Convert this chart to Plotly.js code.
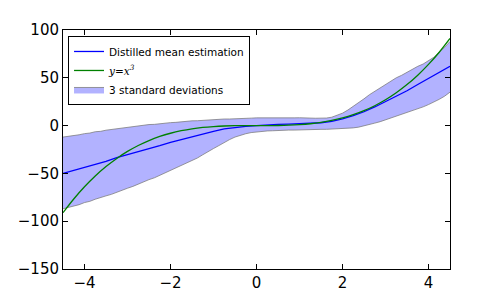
<!DOCTYPE html>
<html>
<head>
<meta charset="utf-8">
<script src="https://cdn.plot.ly/plotly-3.0.1.min.js"></script>
<style>html,body{margin:0;padding:0;background:#fff;}#chart{width:500px;height:300px;}</style>
</head>
<body>
<div id="chart"></div>
<script>
const xs = [-4.5,-4.25,-4,-3.75,-3.5,-3.25,-3,-2.75,-2.5,-2.25,-2,-1.75,-1.5,-1.25,-1,-0.75,-0.5,-0.25,0,0.25,0.5,0.75,1,1.25,1.5,1.75,2,2.25,2.5,2.75,3,3.25,3.5,3.75,4,4.25,4.5];
const meanVals = [-50,-47,-43.5,-40.5,-37.5,-33.5,-30.5,-27,-24,-21,-17.5,-14.5,-11.5,-8.5,-6,-3.5,-2,-0.8,0,0.8,1.2,1.5,1.8,2.2,3,4.5,7,10.5,14.5,19.5,25,30.5,36.5,43,49.5,56,62];
const cubeVals = [-91.125,-76.766,-64,-52.734,-42.875,-34.328,-27,-20.797,-15.625,-11.391,-8,-5.359,-3.375,-1.953,-1,-0.422,-0.125,-0.016,0,0.016,0.125,0.422,1,1.953,3.375,5.359,8,11.391,15.625,20.797,27,34.328,42.875,52.734,64,76.766,91.125];
const bandX = [-4.5,-4.375,-4.25,-4.125,-4,-3.875,-3.75,-3.625,-3.5,-3.375,-3.25,-3.125,-3,-2.875,-2.75,-2.625,-2.5,-2.375,-2.25,-2.125,-2,-1.875,-1.75,-1.625,-1.5,-1.375,-1.25,-1.125,-1,-0.875,-0.75,-0.625,-0.5,-0.375,-0.25,-0.125,0,0.125,0.25,0.375,0.5,0.625,0.75,0.875,1,1.125,1.25,1.375,1.5,1.625,1.75,1.875,2,2.125,2.25,2.375,2.5,2.625,2.75,2.875,3,3.125,3.25,3.375,3.5,3.625,3.75,3.875,4,4.125,4.25,4.375,4.5];
const upperVals = [-12,-11.3,-10.2,-9.6,-8.4,-7.8,-6.4,-6.0,-4.8,-4.1,-3.1,-2.0,-1.6,-0.6,-0.1,0.7,1.1,1.3,2.1,2.4,3.1,3.4,4.1,4.3,5.0,5.1,5.6,5.8,6.3,6.4,6.9,6.9,7.3,7.4,7.7,7.8,8.1,8.0,8.3,8.2,8.4,8.2,8.3,8.1,8.2,7.9,8.0,7.7,7.8,7.9,8.8,10.5,13,16.3,20,24.2,28,32.3,36,39.2,43,46.8,50,52.6,56,59.3,62,64.4,67.5,71.5,77,81.8,88];
const lowerVals = [-87,-85.8,-84,-82.7,-80.5,-79.2,-77,-75.6,-73.5,-71.9,-69.5,-67.8,-65.5,-63.6,-61,-59.1,-56.5,-54.6,-52,-49.8,-47,-44.8,-42,-39.6,-36.5,-33.9,-30.5,-27.6,-24,-20.9,-17.5,-14.6,-12,-10.1,-8.5,-7.3,-6.5,-6.1,-5.6,-5.4,-5.0,-5.0,-4.7,-4.7,-4.4,-4.5,-4.2,-4.2,-3.9,-3.9,-3.7,-3.7,-3.4,-3.1,-2.4,-1.6,-0.4,1.0,2.6,4.1,6,7.6,9.6,11.4,13.5,15.3,17.5,19.6,22,24.4,27.5,30.8,35];
const xTicks = [-4,-2,0,2,4];
const yTicks = [-150,-100,-50,0,50,100];

const edge = 'rgba(120,120,120,0.75)';
const traces = [
  {x: bandX, y: lowerVals, type: 'scatter', mode: 'lines', line: {color: edge, width: 1}, showlegend: false, hoverinfo: 'skip'},
  {x: bandX, y: upperVals, type: 'scatter', mode: 'lines', fill: 'tonexty', fillcolor: 'rgba(0,0,255,0.3)', line: {color: edge, width: 1}, name: '3 standard deviations', legendrank: 3},
  {x: xs, y: meanVals, type: 'scatter', mode: 'lines', line: {color: '#0000ff', width: 1.3}, name: 'Distilled mean estimation', legendrank: 1},
  {x: xs, y: cubeVals, type: 'scatter', mode: 'lines', line: {color: '#008000', width: 1.3, shape: 'spline'}, name: "<span style='font-family:DejaVu Serif;font-style:italic'>y=x<sup>3</sup></span>", legendrank: 2}
];
const axisCommon = {showgrid: false, zeroline: false, showline: true, linecolor: '#000', linewidth: 1, mirror: 'allticks', ticks: 'inside', ticklen: 5, tickcolor: '#000', tickfont: {family: 'DejaVu Sans', size: 15, color: '#000'}};
const layout = {
  width: 500, height: 300,
  margin: {l: 63, r: 50, t: 30, b: 31},
  paper_bgcolor: '#fff', plot_bgcolor: '#fff',
  font: {family: 'DejaVu Sans', color: '#000'},
  xaxis: Object.assign({}, axisCommon, {range: [-4.5, 4.5], tickvals: xTicks}),
  yaxis: Object.assign({}, axisCommon, {range: [-150, 100], tickvals: yTicks}),
  legend: {x: 0.013, y: 0.975, xanchor: 'left', yanchor: 'top', traceorder: 'normal', bgcolor: '#fff', bordercolor: '#000', borderwidth: 1, font: {family: 'DejaVu Sans', size: 10.5, color: '#000'}, itemwidth: 30, tracegroupgap: 0},
  showlegend: true
};
Plotly.newPlot('chart', traces, layout, {staticPlot: true, displayModeBar: false});
</script>
</body>
</html>
